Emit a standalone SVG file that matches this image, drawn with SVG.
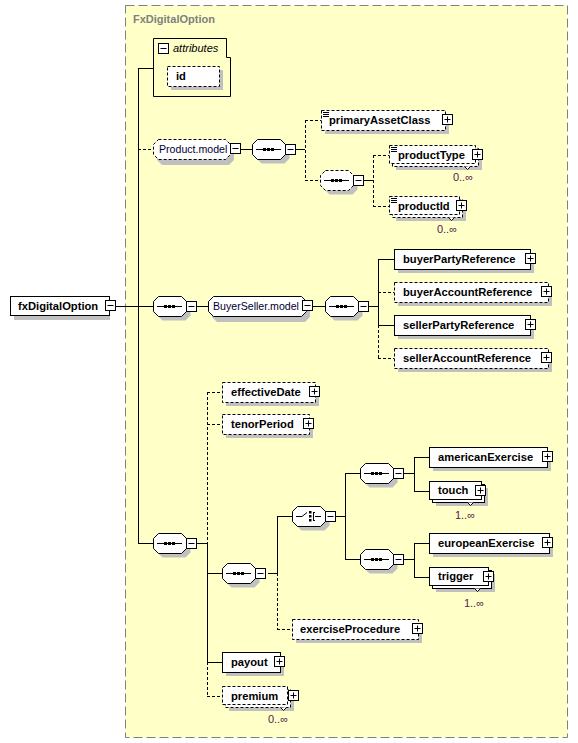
<svg xmlns="http://www.w3.org/2000/svg" xmlns:xlink="http://www.w3.org/1999/xlink" width="578" height="743" viewBox="0 0 578 743">
<style>
.sh{fill:#c0c0c0}
.el{fill:#fff;stroke:#000;stroke-width:1}
.opt{stroke-dasharray:3,2}
.t{font-family:"Liberation Sans",Arial,sans-serif;font-size:11.2px;font-weight:bold;fill:#000}
.m{font-family:"Liberation Sans",Arial,sans-serif;font-size:10.6px;fill:#000030}
.c{font-family:"Liberation Sans",Arial,sans-serif;font-size:11px;fill:#502050}
.ln{stroke:#000;stroke-width:1;fill:none}
.dl{stroke:#000;stroke-width:1;fill:none;stroke-dasharray:3,2}
</style>
<defs>
<g id="bx"><rect x="1" y="1" width="10" height="10" fill="#000"/><rect x="0.5" y="0.5" width="10" height="10" fill="#fff" stroke="#000"/></g>
<g id="plus"><use xlink:href="#bx"/><path d="M2.5 5.5h6M5.5 2.5v6" stroke="#000"/></g>
<g id="minus"><use xlink:href="#bx"/><path d="M2.5 5.5h6" stroke="#000"/></g>
<path id="oct" d="M5.5 0.5H28.5L33.5 5.5V15.5L28.5 20.5H5.5L0.5 15.5V5.5Z"/>
<g id="seqic"><path d="M4 10.5H29" stroke="#000"/><rect x="11" y="9" width="3" height="3" fill="#000"/><rect x="15" y="9" width="3" height="3" fill="#000"/><rect x="19" y="9" width="3" height="3" fill="#000"/></g>
<g id="seq"><use xlink:href="#oct" transform="translate(4,4)" class="sh"/><use xlink:href="#oct" class="el"/><use xlink:href="#seqic"/><use xlink:href="#minus" x="33" y="5"/></g>
<g id="seqopt"><use xlink:href="#oct" transform="translate(4,4)" class="sh"/><use xlink:href="#oct" class="el opt"/><use xlink:href="#seqic"/><use xlink:href="#minus" x="33" y="5"/></g>
<g id="simp"><path d="M2 2.5h6M2 4.5h6M2 6.5h6" stroke="#000" stroke-width="1"/></g>
</defs>

<rect x="125.5" y="5.5" width="442" height="732" fill="#ffffc8" stroke="#808080" stroke-dasharray="9,4"/>
<text x="133" y="23" font-family="Liberation Sans,Arial,sans-serif" font-size="11" font-weight="bold" fill="#808080">FxDigitalOption</text>

<g id="connectors">
<path class="ln" d="M116 306.5H153M138.5 68V543M138 68.5H153M138 543.5H153"/>
<path class="dl" d="M138 149.5H153"/>
<path class="ln" d="M241 149.5H252M296 149.5H305"/>
<path class="dl" d="M305.5 120V180M305 120.5H321M305 180.5H320"/>
<path class="ln" d="M364 180.5H373"/>
<path class="dl" d="M373.5 155V206M373 155.5H389M373 206.5H389"/>
<path class="ln" d="M197 306.5H208M313 306.5H325M369 306.5H378M378.5 259V325M378 259.5H394M378 325.5H394"/>
<path class="dl" d="M378.5 325V358M378 292.5H394M378 358.5H394"/>
<path class="ln" d="M197 543.5H207M207.5 543V662M207 573.5H222M207 662.5H222"/>
<path class="dl" d="M207.5 392V543M207 392.5H222M207 424.5H222M207.5 662V696M207 696.5H222"/>
<path class="ln" d="M268 573.5H277M277.5 516V573M277 516.5H292"/>
<path class="dl" d="M277.5 573V629M277 629.5H292"/>
<path class="ln" d="M336 516.5H345M345.5 473V559M345 473.5H360M345 559.5H360"/>
<path class="ln" d="M404 473.5H414M414.5 457V491M414 457.5H429M414 491.5H429"/>
<path class="ln" d="M404 559.5H414M414.5 543V577M414 543.5H429M414 577.5H429"/>
</g>

<g id="n-fxDigitalOption">
<rect class="sh" x="14" y="300" width="96" height="20"/>
<rect class="el" x="10.5" y="296.5" width="99" height="19"/>
<text class="t" x="18" y="310">fxDigitalOption</text>
<use xlink:href="#minus" x="105" y="300"/>
</g>

<g id="n-attributes">
<path d="M153.5 38.5H226.5V57.5H230.5V96.5H153.5Z" fill="none" stroke="#000"/>
<use xlink:href="#minus" x="158" y="43"/>
<text x="173" y="52" font-family="Liberation Sans,Arial,sans-serif" font-size="11" font-style="italic" fill="#000">attributes</text>
<rect class="sh" x="171" y="70" width="52" height="20"/>
<rect class="el opt" x="167.5" y="66.5" width="52" height="20"/>
<text class="t" x="176" y="80">id</text>
</g>

<g id="n-Product.model">
<path class="sh" d="M162 143H229L234 148V160L229 165H162L157 160V148Z"/>
<path class="el opt" d="M158.5 139.5H225.5L230.5 144.5V154.5L225.5 159.5H158.5L153.5 154.5V144.5Z"/>
<text class="m" x="159" y="153">Product.model</text>
<use xlink:href="#minus" x="230" y="143"/>
</g>
<g id="n-seq1"><use xlink:href="#seq" x="252" y="139"/></g>
<g id="n-primaryAssetClass">
<rect class="sh" x="325" y="114" width="124" height="20"/>
<rect class="el opt" x="321.5" y="110.5" width="124" height="20"/>
<use xlink:href="#simp" x="321" y="110"/>
<text class="t" x="329" y="124">primaryAssetClass</text>
<use xlink:href="#plus" x="442" y="114"/>
</g>
<g id="n-seq2"><use xlink:href="#seqopt" x="320" y="170"/></g>
<g id="n-productType">
<rect class="sh" x="396" y="152" width="86" height="18"/>
<rect class="el opt" x="392.5" y="148.5" width="86" height="18"/>
<rect class="el opt" x="389.5" y="145.5" width="86" height="18"/>
<path d="M464.5 166.5l3 3 3-3" fill="#fff" stroke="#000"/>
<use xlink:href="#simp" x="389" y="145"/>
<text class="t" x="398" y="159">productType</text>
<use xlink:href="#plus" x="472" y="149"/>
<text class="c" x="473" y="181" text-anchor="end">0..∞</text>
</g>
<g id="n-productId">
<rect class="sh" x="396" y="203" width="70" height="18"/>
<rect class="el opt" x="392.5" y="199.5" width="70" height="18"/>
<rect class="el opt" x="389.5" y="196.5" width="70" height="18"/>
<path d="M448.5 217.5l3 3 3-3" fill="#fff" stroke="#000"/>
<use xlink:href="#simp" x="389" y="196"/>
<text class="t" x="398" y="210">productId</text>
<use xlink:href="#plus" x="456" y="200"/>
<text class="c" x="457" y="233" text-anchor="end">0..∞</text>
</g>

<g id="n-seq3"><use xlink:href="#seq" x="153" y="296"/></g>
<g id="n-BuyerSeller.model">
<path class="sh" d="M217 300H305L310 305V317L305 322H217L212 317V305Z"/>
<path class="el" d="M213.5 296.5H301.5L306.5 301.5V311.5L301.5 316.5H213.5L208.5 311.5V301.5Z"/>
<text class="m" x="213" y="310">BuyerSeller.model</text>
<use xlink:href="#minus" x="302" y="300"/>
</g>
<g id="n-seq4"><use xlink:href="#seq" x="325" y="296"/></g>
<g id="n-buyerPartyReference">
<rect class="sh" x="398" y="253" width="136" height="20"/>
<rect class="el" x="394.5" y="249.5" width="136" height="20"/>
<text class="t" x="403" y="263">buyerPartyReference</text>
<use xlink:href="#plus" x="525" y="253"/>
</g>
<g id="n-buyerAccountReference">
<rect class="sh" x="398" y="286" width="154" height="20"/>
<rect class="el opt" x="394.5" y="282.5" width="154" height="20"/>
<text class="t" x="403" y="296">buyerAccountReference</text>
<use xlink:href="#plus" x="541" y="286"/>
</g>
<g id="n-sellerPartyReference">
<rect class="sh" x="398" y="319" width="136" height="20"/>
<rect class="el" x="394.5" y="315.5" width="136" height="20"/>
<text class="t" x="403" y="329">sellerPartyReference</text>
<use xlink:href="#plus" x="525" y="319"/>
</g>
<g id="n-sellerAccountReference">
<rect class="sh" x="398" y="352" width="154" height="20"/>
<rect class="el opt" x="394.5" y="348.5" width="154" height="20"/>
<text class="t" x="403" y="362">sellerAccountReference</text>
<use xlink:href="#plus" x="541" y="352"/>
</g>

<g id="n-seq5"><use xlink:href="#seq" x="153" y="533"/></g>
<g id="n-effectiveDate">
<rect class="sh" x="226" y="386" width="93" height="20"/>
<rect class="el opt" x="222.5" y="382.5" width="93" height="20"/>
<text class="t" x="231" y="396">effectiveDate</text>
<use xlink:href="#plus" x="309" y="386"/>
</g>
<g id="n-tenorPeriod">
<rect class="sh" x="226" y="418" width="87" height="20"/>
<rect class="el opt" x="222.5" y="414.5" width="87" height="20"/>
<text class="t" x="231" y="428">tenorPeriod</text>
<use xlink:href="#plus" x="303" y="418"/>
</g>
<g id="n-seq6"><use xlink:href="#seq" x="222" y="563"/></g>
<g id="n-choice">
<use xlink:href="#oct" transform="translate(296,510)" class="sh"/>
<use xlink:href="#oct" transform="translate(292,506)" class="el"/>
<path d="M296 516.5H302L307 512.5M313.5 512V521M313 512.5H315M313 520.5H315M315 516.5H321" stroke="#000" fill="none"/>
<rect x="309" y="511" width="2.5" height="2.5" fill="#000"/><rect x="309" y="515" width="2.5" height="2.5" fill="#000"/><rect x="309" y="519" width="2.5" height="2.5" fill="#000"/>
<use xlink:href="#minus" x="325" y="511"/>
</g>
<g id="n-seq7"><use xlink:href="#seq" x="360" y="463"/></g>
<g id="n-seq8"><use xlink:href="#seq" x="360" y="549"/></g>
<g id="n-americanExercise">
<rect class="sh" x="433" y="451" width="118" height="20"/>
<rect class="el" x="429.5" y="447.5" width="118" height="20"/>
<text class="t" x="438" y="461">americanExercise</text>
<use xlink:href="#plus" x="542" y="451"/>
</g>
<g id="n-touch">
<rect class="sh" x="436" y="488" width="52" height="18"/>
<rect class="el" x="432.5" y="484.5" width="52" height="18"/>
<rect class="el" x="429.5" y="481.5" width="52" height="18"/>
<path d="M467.5 502.5l3 3 3-3" fill="#fff" stroke="#000"/>
<text class="t" x="438" y="494">touch</text>
<use xlink:href="#plus" x="475" y="485"/>
<text class="c" x="475" y="519" text-anchor="end">1..∞</text>
</g>
<g id="n-europeanExercise">
<rect class="sh" x="433" y="537" width="120" height="20"/>
<rect class="el" x="429.5" y="533.5" width="120" height="20"/>
<text class="t" x="438" y="547">europeanExercise</text>
<use xlink:href="#plus" x="542" y="537"/>
</g>
<g id="n-trigger">
<rect class="sh" x="436" y="574" width="59" height="18"/>
<rect class="el" x="432.5" y="570.5" width="59" height="18"/>
<rect class="el" x="429.5" y="567.5" width="59" height="18"/>
<path d="M474.5 588.5l3 3 3-3" fill="#fff" stroke="#000"/>
<text class="t" x="438" y="580">trigger</text>
<use xlink:href="#plus" x="483" y="571"/>
<text class="c" x="484" y="607" text-anchor="end">1..∞</text>
</g>
<g id="n-exerciseProcedure">
<rect class="sh" x="296" y="623" width="126" height="20"/>
<rect class="el opt" x="292.5" y="619.5" width="126" height="20"/>
<text class="t" x="300" y="633">exerciseProcedure</text>
<use xlink:href="#plus" x="412" y="623"/>
</g>
<g id="n-payout">
<rect class="sh" x="226" y="656" width="58" height="20"/>
<rect class="el" x="222.5" y="652.5" width="58" height="20"/>
<text class="t" x="231" y="666">payout</text>
<use xlink:href="#plus" x="274" y="656"/>
</g>
<g id="n-premium">
<rect class="sh" x="229" y="693" width="65" height="18"/>
<rect class="el opt" x="225.5" y="689.5" width="65" height="18"/>
<rect class="el opt" x="222.5" y="686.5" width="65" height="18"/>
<path d="M280.5 707.5l3 3 3-3" fill="#fff" stroke="#000"/>
<text class="t" x="231" y="700">premium</text>
<use xlink:href="#plus" x="288" y="690"/>
<text class="c" x="288" y="723" text-anchor="end">0..∞</text>
</g>
</svg>
